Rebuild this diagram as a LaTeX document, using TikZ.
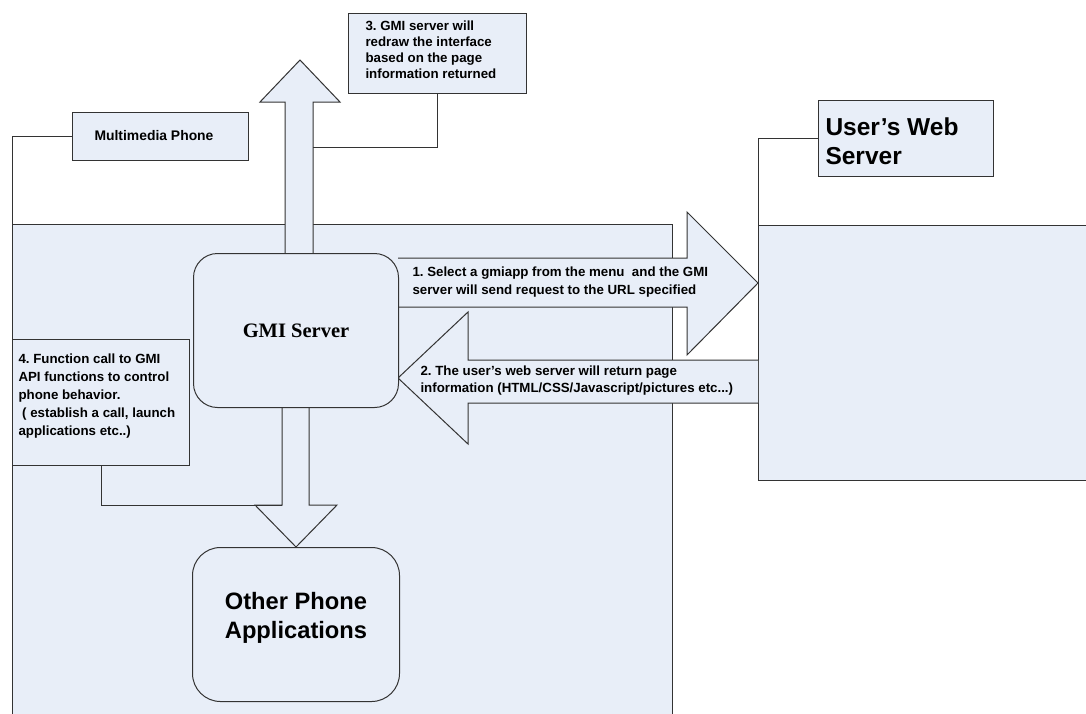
\documentclass[tikz,border=0pt]{standalone}
\usepackage{fontspec}
\setmainfont{Liberation Sans}
\newfontfamily\gmiserif{Liberation Serif}
\definecolor{boxfill}{HTML}{E8EEF8}
\definecolor{linec}{HTML}{333333}
\frenchspacing
\begin{document}
\begin{tikzpicture}[x=1pt,y=-1pt,line width=1pt,
  lbl/.style={draw=linec, fill=boxfill, line width=1pt, inner sep=0pt},
  txt/.style={anchor=north west, align=left, inner sep=0pt},
  smalltxt/.style={font=\bfseries\fontsize{13.3}{16}\selectfont},
  arrowshape/.style={draw=linec, fill=boxfill, line width=1pt, line join=miter},
  callout/.style={draw=linec, line width=1pt},
  rbox/.style={draw=linec, fill=boxfill, line width=1pt, rounded corners=24pt}
]
\useasboundingbox (0,0) rectangle (1086,713);
\clip (0,0) rectangle (1086,713);

% main phone area
\coordinate (mainNW) at (12,224);
\coordinate (mainNE) at (672,224);
\fill[boxfill] (12,224) rectangle (672,730);
\draw[linec] (12,730) -- (mainNW) -- (mainNE) -- (672,730);

% web server area
\coordinate (webNW) at (758,225);
\fill[boxfill] (758,225) rectangle (1090,480);
\draw[linec] (1090,225) -- (webNW) -- (758,480) -- (1090,480);

% labels
\node[lbl, minimum width=176pt, minimum height=48pt,
      font=\bfseries\fontsize{13.9}{15}\selectfont] (mp) at (160,136) {Multimedia Phone\hspace*{12pt}};

\node[lbl, minimum width=175pt, minimum height=76pt, anchor=north west] (uws) at (818,100) {};
\node[txt, font=\bfseries\fontsize{24.5}{29}\selectfont] (uwst) at ([xshift=7pt,yshift=-17pt]uws.north west)
      {User’s Web\\Server};

\node[lbl, minimum width=178pt, minimum height=80pt, anchor=north west] (s3) at (348,13) {};
\node[txt, smalltxt] (s3t) at ([xshift=17pt,yshift=-7pt]s3.north west)
      {3. GMI server will\\redraw the interface\\based on the page\\information returned};

\node[lbl, minimum width=177pt, minimum height=126pt, anchor=north west] (s4) at (12,339) {};
\node[txt, font=\bfseries\fontsize{13.3}{18}\selectfont] (s4t) at ([xshift=6pt,yshift=-14pt]s4.north west)
      {4. Function call to GMI\\API functions to control\\phone behavior.\\\ ( establish a call, launch\\applications etc..)};

% callouts
\draw[callout] (mp.west) -| (mainNW);
\draw[callout] (uws.west) -| (webNW);

% arrows
\coordinate (upL) at (285,253);
\coordinate (upR) at (313,253);
\draw[arrowshape] (upL) -- (285,102) -- (260,102) -- (300,60) -- (340,102) -- (313,102) -- (upR);
\coordinate (s3c) at (313,147);
\draw[callout] (s3.south) |- (s3c);

\coordinate (dnL) at (282,407);
\coordinate (dnR) at (309,407);
\draw[arrowshape] (dnL) -- (282,505) -- (255,505) -- (296,547) -- (337,505) -- (309,505) -- (dnR);
\coordinate (s4c) at (282,505);
\coordinate (s4b) at (101,465);
\draw[callout] (s4b) |- (s4c);

\coordinate (a1s) at (398,258);
\draw[arrowshape] (a1s) -- (687,258) -- (687,212) -- (758,283) -- (687,355) -- (687,307) -- (398,307);
\coordinate (a2s) at (758,360);
\draw[arrowshape] (a2s) -- (468,360) -- (468,312) -- (398,378) -- (468,444) -- (468,403) -- (758,403);

\node[anchor=west, align=left, font=\bfseries\fontsize{13.3}{18}\selectfont, inner sep=0pt] (t1) at (412,282)
  {1. Select a gmiapp from the menu \ and the GMI\\server will send request to the URL specified};
\node[anchor=west, align=left, font=\bfseries\fontsize{13.3}{17}\selectfont, inner sep=0pt] (t2) at (420,381)
  {2. The user’s web server will return page\\information (HTML/CSS/Javascript/pictures etc...)};

% rounded boxes
\node[rbox, minimum width=205pt, minimum height=154pt, anchor=north west,
      font=\gmiserif\bfseries\fontsize{20.5}{22}\selectfont] (gmi) at (193,253) {GMI Server};
\node[rbox, rounded corners=28pt, minimum width=207pt, minimum height=154pt, anchor=north west] (opa) at (192,547) {};
\node[align=center, inner sep=0pt, font=\bfseries\fontsize{23.7}{29}\selectfont] (opat)
      at ([yshift=7pt]opa.center) {Other Phone\\Applications};
\end{tikzpicture}
\end{document}
